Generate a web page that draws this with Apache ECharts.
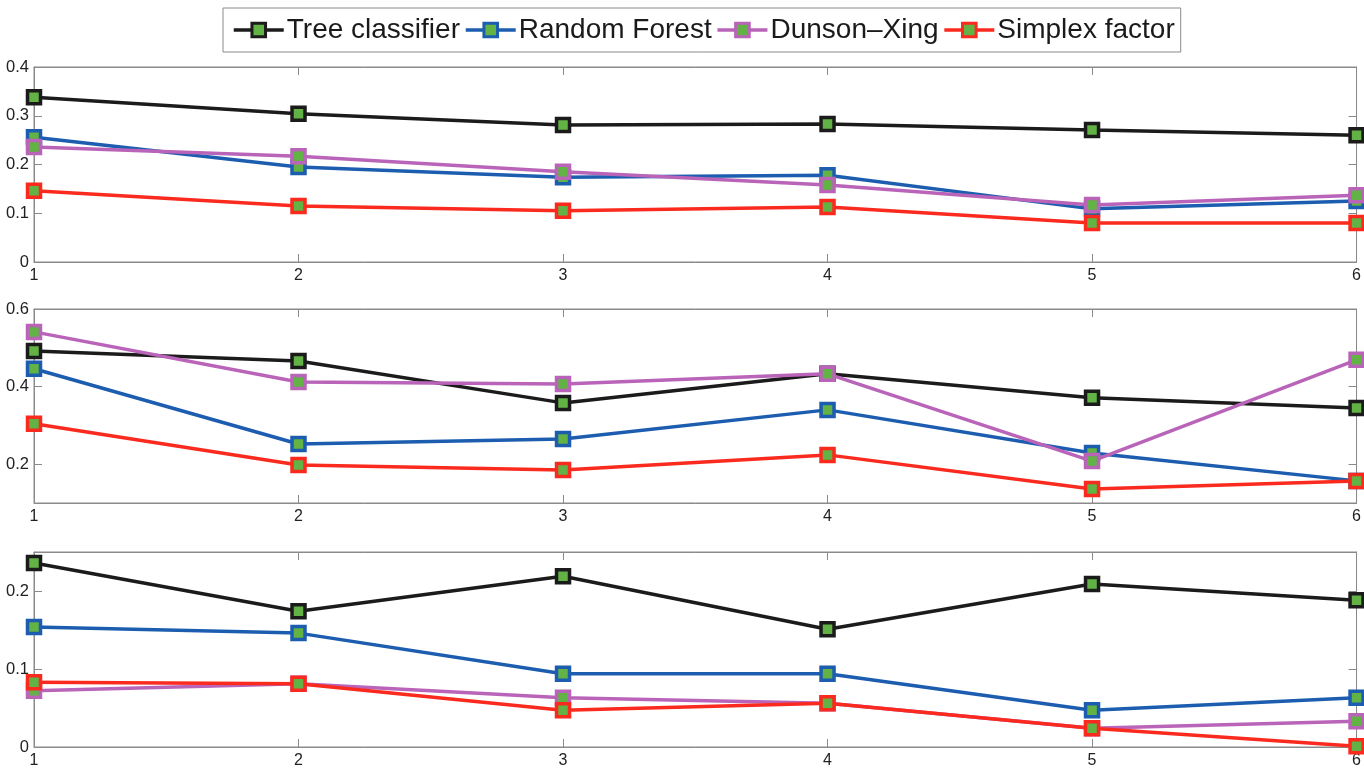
<!DOCTYPE html>
<html>
<head>
<meta charset="utf-8">
<title>Classifier comparison</title>
<script src="https://cdn.jsdelivr.net/npm/echarts@6/dist/echarts.min.js"></script>
<style>
  html, body { margin: 0; padding: 0; background: #ffffff; }
  #chart { width: 1364px; height: 770px; }
</style>
</head>
<body>
<div id="chart"></div>
<script>
// x positions shared by all three panels
const xValues = [1, 2, 3, 4, 5, 6];
const seriesNames = ['Tree classifier', 'Random Forest', 'Dunson\u2013Xing', 'Simplex factor'];

// Panel 1
const treeP1 = [0.338, 0.304, 0.281, 0.283, 0.271, 0.260];
const rfP1   = [0.256, 0.195, 0.174, 0.178, 0.109, 0.125];
const dxP1   = [0.236, 0.217, 0.185, 0.158, 0.117, 0.137];
const sfP1   = [0.146, 0.115, 0.105, 0.113, 0.080, 0.080];

// Panel 2
const treeP2 = [0.492, 0.466, 0.358, 0.433, 0.371, 0.345];
const rfP2   = [0.446, 0.252, 0.265, 0.340, 0.229, 0.157];
const dxP2   = [0.541, 0.412, 0.407, 0.433, 0.208, 0.469];
const sfP2   = [0.304, 0.198, 0.185, 0.224, 0.136, 0.157];

// Panel 3
const treeP3 = [0.236, 0.174, 0.219, 0.151, 0.209, 0.188];
const rfP3   = [0.154, 0.146, 0.094, 0.094, 0.047, 0.063];
const dxP3   = [0.072, 0.081, 0.063, 0.056, 0.024, 0.033];
const sfP3   = [0.083, 0.081, 0.047, 0.056, 0.024, 0.001];

// Axis ranges and tick labels
const yRangeP1 = [0, 0.4];
const yRangeP2 = [0.1, 0.6];
const yRangeP3 = [0, 0.25];
const yTicksP1 = [0, 0.1, 0.2, 0.3, 0.4];
const yTicksP2 = [0.2, 0.4, 0.6];
const yTicksP3 = [0, 0.1, 0.2];

const lineColors = ['#1b1b1b', '#1c5db0', '#b964b9', '#fa2a1e'];
const markerFill = '#62b246';
const axisGray = '#8a8a8a';
const labelFont = '"Liberation Sans", Arial, Helvetica, sans-serif';

const panels = [
  { data: [treeP1, rfP1, dxP1, sfP1], range: yRangeP1, ticks: yTicksP1, top: 67, height: 195 },
  { data: [treeP2, rfP2, dxP2, sfP2], range: yRangeP2, ticks: yTicksP2, top: 309, height: 194 },
  { data: [treeP3, rfP3, dxP3, sfP3], range: yRangeP3, ticks: yTicksP3, top: 552, height: 195 }
];

const grids = [], xAxes = [], yAxes = [], series = [];

panels.forEach((p, gi) => {
  grids.push({
    left: 34, right: 7, top: p.top, height: p.height,
    show: true, borderColor: axisGray, borderWidth: 1, backgroundColor: '#ffffff'
  });
  // bottom and top x axes (top one only mirrors the ticks)
  ['bottom', 'top'].forEach((pos, k) => {
    xAxes.push({
      type: 'value', gridIndex: gi, position: pos, min: 1, max: 6, interval: 1,
      axisLine: { show: true, onZero: false, lineStyle: { color: axisGray, width: 1 } },
      axisTick: { show: true, inside: true, length: 8, lineStyle: { color: axisGray } },
      splitLine: { show: false },
      axisLabel: {
        show: k === 0, margin: 6, fontSize: 16, color: '#222',
        fontFamily: labelFont,
        customValues: xValues
      }
    });
  });
  // left and right y axes (right one only mirrors the ticks)
  ['left', 'right'].forEach((pos, k) => {
    yAxes.push({
      type: 'value', gridIndex: gi, position: pos, min: p.range[0], max: p.range[1],
      axisLine: { show: true, onZero: false, lineStyle: { color: axisGray, width: 1 } },
      axisTick: { show: true, inside: true, length: 8, customValues: p.ticks, lineStyle: { color: axisGray } },
      splitLine: { show: false },
      axisLabel: {
        show: k === 0, margin: 5, fontSize: 16.5, color: '#222',
        fontFamily: labelFont,
        customValues: p.ticks
      }
    });
  });
  p.data.forEach((vals, si) => {
    series.push({
      name: seriesNames[si],
      type: 'line',
      xAxisIndex: gi * 2,
      yAxisIndex: gi * 2,
      data: xValues.map((x, i) => [x, vals[i]]),
      symbol: 'rect',
      symbolSize: 13,
      showAllSymbol: true,
      clip: false,
      lineStyle: { color: lineColors[si], width: 3.5 },
      itemStyle: { color: markerFill, borderColor: lineColors[si], borderWidth: 3.5 },
      emphasis: { disabled: true },
      z: 2 + si
    });
  });
});

const chart = echarts.init(document.getElementById('chart'), null, { renderer: 'canvas' });
chart.setOption({
  animation: false,
  backgroundColor: '#ffffff',
  legend: {
    data: seriesNames,
    left: 223, top: 8,
    orient: 'horizontal',
    padding: [8, 6, 8, 9],
    itemGap: 4,
    itemWidth: 50,
    itemHeight: 17,
    backgroundColor: '#ffffff',
    borderColor: axisGray,
    borderWidth: 1,
    lineStyle: { width: 3.5 },
    itemStyle: { borderWidth: 3 },
    textStyle: { fontSize: 28, color: '#1a1a1a', fontFamily: labelFont, padding: [0, 0, 0, -2] },
    selectedMode: false
  },
  grid: grids,
  xAxis: xAxes,
  yAxis: yAxes,
  series: series
});
</script>
</body>
</html>
